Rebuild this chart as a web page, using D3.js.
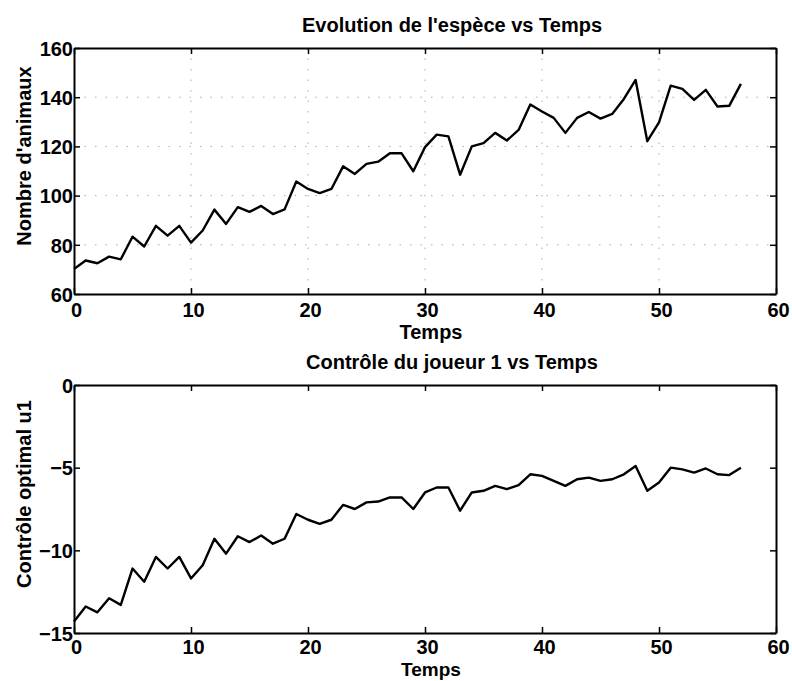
<!DOCTYPE html>
<html>
<head>
<meta charset="utf-8">
<script src="https://cdn.jsdelivr.net/npm/d3@7"></script>
<style>
  body { margin: 0; background: #fff; }
  svg text { font-family: "Liberation Sans", Arial, sans-serif; font-weight: bold; fill: #000; }
</style>
</head>
<body>
<svg width="792" height="681"></svg>
<script>
// temps 0..57
const temps = d3.range(0, 58);

// nombre d'animaux
const animaux = [70.2, 73.6, 72.5, 75.2, 74.1, 83.3, 79.3, 87.7, 83.7, 87.7,
  80.9, 85.8, 94.3, 88.5, 95.3, 93.4, 95.8, 92.5, 94.4, 105.7,
  102.7, 101, 102.7, 111.9, 108.8, 112.9, 113.8, 117.2, 117.2, 109.9,
  119.7, 124.8, 124.1, 108.5, 120, 121.3, 125.5, 122.4, 126.7, 137,
  134.2, 131.6, 125.5, 131.6, 134, 131.3, 133.2, 139.3, 147, 122.1,
  129.8, 144.7, 143.4, 138.9, 143, 136.2, 136.5, 145.4];

// contrôle optimal u1
const controle = [-14.3, -13.4, -13.75, -12.9, -13.3, -11.1, -11.9, -10.4, -11.1, -10.4,
  -11.7, -10.9, -9.3, -10.2, -9.15, -9.5, -9.1, -9.6, -9.3, -7.8,
  -8.15, -8.4, -8.15, -7.25, -7.5, -7.1, -7.05, -6.8, -6.8, -7.5,
  -6.5, -6.2, -6.2, -7.6, -6.5, -6.4, -6.1, -6.3, -6.05, -5.4,
  -5.5, -5.8, -6.1, -5.7, -5.6, -5.8, -5.7, -5.4, -4.9, -6.4,
  -5.9, -5.0, -5.1, -5.3, -5.05, -5.4, -5.45, -5.0];

const xTicks = [0, 10, 20, 30, 40, 50, 60];
const yTicksHaut = [60, 80, 100, 120, 140, 160];
const yTicksBas = [-15, -10, -5, 0];

const svg = d3.select('svg');
const left = 74, right = 776;

// dessine un sous-graphe
function panel(top, bottom, domainY, yTicks, data, titre, labelY, gridY, tempsY, pad, tempsSize) {
  const x = d3.scaleLinear().domain([0, 60]).range([left, right]);
  const y = d3.scaleLinear().domain(domainY).range([bottom, top]);
  const g = svg.append('g');

  // grille pointillée (très pâle sur le scan)
  if (gridY) {
    g.selectAll('.gx').data(xTicks.slice(1, -1)).join('line')
      .attr('x1', d => x(d)).attr('x2', d => x(d))
      .attr('y1', top).attr('y2', bottom)
      .attr('stroke', '#aaa').attr('stroke-dasharray', '1.5,9');
    g.selectAll('.gy').data(yTicks.slice(1, -1)).join('line')
      .attr('x1', left).attr('x2', right)
      .attr('y1', d => y(d)).attr('y2', d => y(d))
      .attr('stroke', '#aaa').attr('stroke-dasharray', '1.5,9');
  }

  // courbe
  g.append('path')
    .datum(temps.map((t, i) => [t, data[i]]))
    .attr('fill', 'none').attr('stroke', '#000')
    .attr('stroke-width', 2.4).attr('stroke-linejoin', 'round')
    .attr('d', d3.line().x(d => x(d[0])).y(d => y(d[1])));

  // axes (graduations vers l'intérieur)
  const axB = g.append('g').attr('transform', `translate(0,${bottom})`)
    .call(d3.axisBottom(x).tickValues(xTicks).tickSize(-6).tickSizeOuter(0).tickPadding(pad));
  const axL = g.append('g').attr('transform', `translate(${left},0)`)
    .call(d3.axisLeft(y).tickValues(yTicks).tickSize(-6).tickSizeOuter(0).tickPadding(1));
  g.append('g').attr('transform', `translate(0,${top})`)
    .call(d3.axisTop(x).tickValues(xTicks).tickSize(-6).tickSizeOuter(0).tickFormat(''));
  g.append('g').attr('transform', `translate(${right},0)`)
    .call(d3.axisRight(y).tickValues(yTicks).tickSize(-6).tickSizeOuter(0).tickFormat(''));

  g.selectAll('.domain').attr('stroke', '#000').attr('stroke-width', 2);
  g.selectAll('.tick line').attr('stroke', '#000').attr('stroke-width', 1.5);
  g.selectAll('.tick text').style('font-size', '20px')
    .style('font-family', '"Liberation Sans", Arial, sans-serif').style('font-weight', 'bold');
  axB.selectAll('.tick text').attr('x', 2);
  axL.selectAll('.tick text').attr('dy', '0.36em');

  // titres
  g.append('text').attr('x', 452).attr('y', top - 16)
    .attr('text-anchor', 'middle').style('font-size', '20px').text(titre);
  g.append('text').attr('x', 431).attr('y', tempsY)
    .attr('text-anchor', 'middle').style('font-size', tempsSize + 'px').text('Temps');
  g.append('text')
    .attr('transform', `translate(31,${(top + bottom) / 2 - 15}) rotate(-90)`)
    .attr('text-anchor', 'middle').style('font-size', '20px').text(labelY);
}

panel(48, 294, [60, 160], yTicksHaut, animaux,
  "Evolution de l'espèce vs Temps", "Nombre d'animaux", true, 339, 9, 20);
panel(385, 633, [-15, 0], yTicksBas, controle,
  "Contrôle du joueur 1 vs Temps", "Contrôle optimal u1", false, 676, 7, 19);
</script>
</body>
</html>
